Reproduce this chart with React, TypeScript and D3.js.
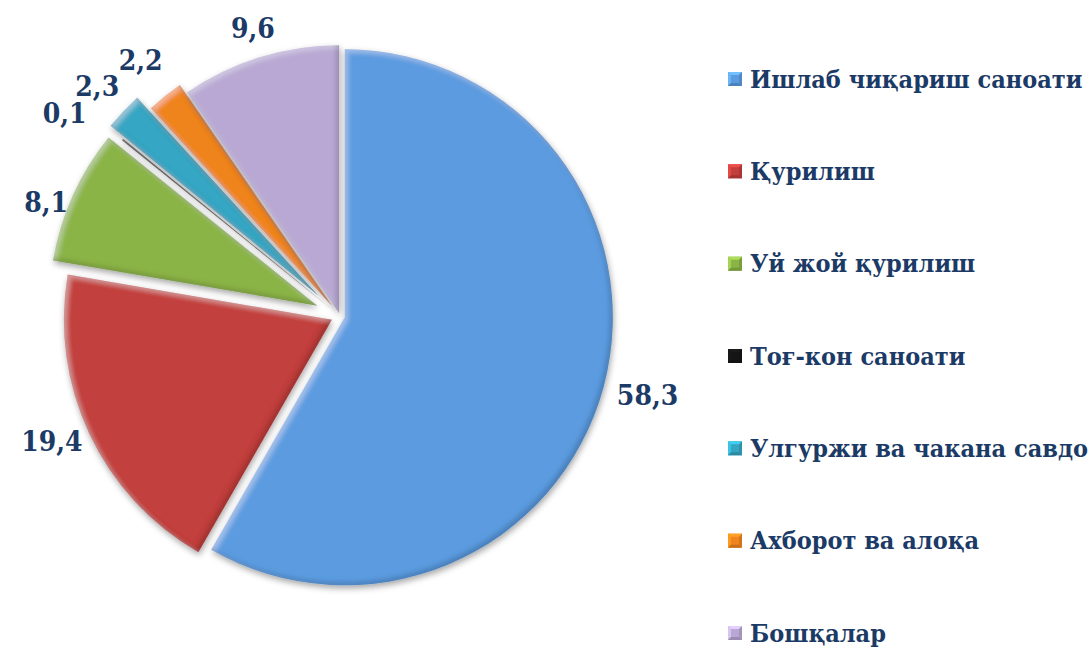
import React from 'react';
import * as d3 from 'd3';

// chart data
const categories = [
  'Ишлаб чиқариш саноати',
  'Қурилиш',
  'Уй жой қурилиш',
  'Тоғ-кон саноати',
  'Улгуржи ва чакана савдо',
  'Ахборот ва алоқа',
  'Бошқалар',
];
const shares = [58.3, 19.4, 8.1, 0.1, 2.3, 2.2, 9.6];

// styling
const colors = ['#5B9BE0', '#C23F3C', '#8BB446', '#151515', '#34A6C3', '#F0841E', '#B8A8D3'];
const explode = [5, 9, 25, 12, 30, 13, 3]; // px each slice is pulled out
const labelNudge: [number, number][] = [[9, 0], [-5, -8], [6, 22], [-30, -3], [0, 0], [-2, -7], [4, 6]];

const W = 1091;
const H = 648;
const cx = 340;
const cy = 316;
const radius = 268;
const textColor = '#1B3A66';
const font = "'DejaVu Serif Condensed', 'DejaVu Serif', serif";

export default function App() {
  const pie = d3.pie<number>().sort(null).value(d => d);
  const arcs = pie(shares);
  const arc = d3.arc<d3.PieArcDatum<number>>().innerRadius(0).outerRadius(radius);
  const labelArc = d3.arc<d3.PieArcDatum<number>>().innerRadius(radius + 36).outerRadius(radius + 36);

  const legendY = d3.scalePoint<string>().domain(categories).range([79, 633]);

  return (
    <svg width={W} height={H} style={{ position: 'absolute', left: 0, top: 0, background: '#fff' }}>
      <defs>
        <filter id="bevel" x="-10%" y="-10%" width="120%" height="120%">
          <feGaussianBlur in="SourceAlpha" stdDeviation="2.5" result="blur" />
          <feOffset in="blur" dx="3" dy="3" result="offA" />
          <feComposite in="SourceAlpha" in2="offA" operator="out" result="hlMask" />
          <feFlood floodColor="#fff" floodOpacity="0.3" />
          <feComposite in2="hlMask" operator="in" result="hl" />
          <feOffset in="blur" dx="-3" dy="-3" result="offB" />
          <feComposite in="SourceAlpha" in2="offB" operator="out" result="shMask" />
          <feFlood floodColor="#000" floodOpacity="0.35" />
          <feComposite in2="shMask" operator="in" result="sh" />
          <feGaussianBlur in="SourceAlpha" stdDeviation="3" result="dsBlur" />
          <feOffset in="dsBlur" dx="1" dy="3" result="dsOff" />
          <feFlood floodColor="#000" floodOpacity="0.35" />
          <feComposite in2="dsOff" operator="in" result="ds" />
          <feMerge>
            <feMergeNode in="ds" />
            <feMergeNode in="SourceGraphic" />
            <feMergeNode in="hl" />
            <feMergeNode in="sh" />
          </feMerge>
        </filter>
      </defs>

      <g transform={`translate(${cx},${cy})`}>
        {arcs.map((a, i) => {
          const mid = (a.startAngle + a.endAngle) / 2;
          const dx = explode[i] * Math.sin(mid);
          const dy = -explode[i] * Math.cos(mid);
          return (
            <g key={i} transform={`translate(${dx},${dy})`}>
              <path d={arc(a) || ''} fill={colors[i]} filter="url(#bevel)" />
            </g>
          );
        })}
        {arcs.map((a, i) => {
          const mid = (a.startAngle + a.endAngle) / 2;
          const dx = explode[i] * Math.sin(mid);
          const dy = -explode[i] * Math.cos(mid);
          const [lx, ly] = labelArc.centroid(a);
          return (
            <text
              key={'l' + i}
              x={lx + dx + labelNudge[i][0]}
              y={ly + dy + labelNudge[i][1]}
              textAnchor="middle"
              dominantBaseline="central"
              style={{ fontFamily: font, fontWeight: 'bold', fontSize: 28 }}
              fill={textColor}
            >
              {String(shares[i]).replace('.', ',')}
            </text>
          );
        })}
      </g>

      <g>
        {categories.map((c, i) => {
          const y = legendY(c) || 0;
          const s = 14;
          const x0 = 728;
          const y0 = y - s / 2;
          const base = d3.color(colors[i])!;
          const light = base.brighter(0.6).formatHex();
          const dark = base.darker(0.5).formatHex();
          const ix = 3;
          return (
            <g key={'lg' + i}>
              <rect x={x0} y={y0} width={s} height={s} fill={colors[i]} />
              <path d={`M${x0},${y0}L${x0 + s},${y0}L${x0 + s - ix},${y0 + ix}L${x0 + ix},${y0 + ix}Z`} fill={light} />
              <path d={`M${x0},${y0}L${x0 + ix},${y0 + ix}L${x0 + ix},${y0 + s - ix}L${x0},${y0 + s}Z`} fill={light} opacity={0.7} />
              <path d={`M${x0},${y0 + s}L${x0 + ix},${y0 + s - ix}L${x0 + s - ix},${y0 + s - ix}L${x0 + s},${y0 + s}Z`} fill={dark} />
              <path d={`M${x0 + s},${y0}L${x0 + s},${y0 + s}L${x0 + s - ix},${y0 + s - ix}L${x0 + s - ix},${y0 + ix}Z`} fill={dark} opacity={0.7} />
              <text
                x={750}
                y={y}
                dominantBaseline="central"
                style={{ fontFamily: font, fontWeight: 'bold', fontSize: 25 }}
                fill={textColor}
              >
                {c}
              </text>
            </g>
          );
        })}
      </g>
    </svg>
  );
}
